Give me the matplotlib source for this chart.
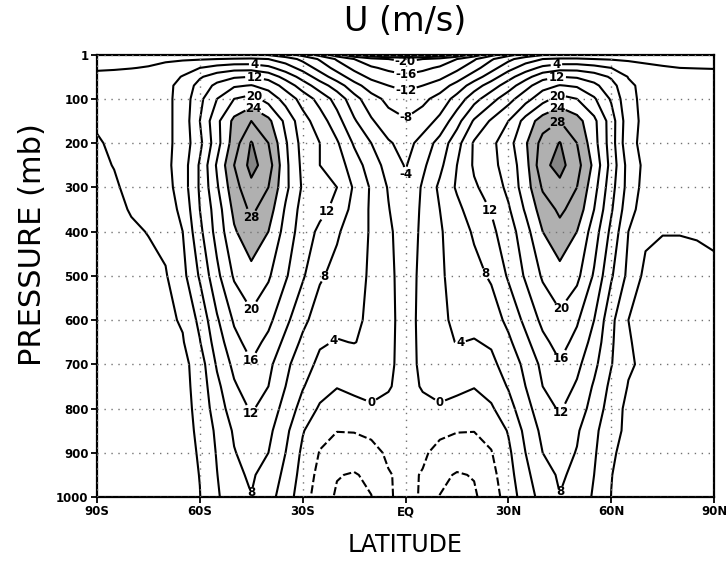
import matplotlib
matplotlib.use("Agg")
import matplotlib.pyplot as plt
import numpy as np

# zonal mean U (m/s), values on a 5 deg x pressure grid
pressure = [1, 10, 30, 50, 70, 100, 150, 200, 250, 300, 350, 400,
            500, 600, 650, 700, 750, 800, 850, 900, 950, 1000]
lat_nh = [0, 5, 10, 15, 20, 25, 30, 35, 40, 45, 50, 55, 60, 65, 70, 75, 80, 85, 90]

# northern hemisphere, columns EQ -> 90N
u_nh = [
    [-30, -29, -27, -23, -18, -13, -9, -6, -4, -3, -3, -3, -3, -2.8, -2.5, -2.3, -2.2, -2, -2],
    [-21, -20, -18.5, -16, -12.5, -8.5, -5, -2, 0, 0.5, 0.5, 0, -0.3, -0.6, -0.8, -1, -1, -1, -1],
    [-17.5, -16.8, -15.5, -13, -9.5, -5.5, -1.5, 2, 5, 6.5, 6.5, 5.5, 4, 2, 0.8, 0.3, 0, -0.1, -0.2],
    [-15.5, -14.5, -13, -10, -6, -2, 2.5, 6.5, 10.5, 12, 11.5, 10, 7.5, 3.8, 2, 1.5, 1.5, 1.5, 1.5],
    [-13, -12, -10, -6.5, -2, 2, 6, 10.5, 14.5, 16.2, 15.5, 13, 9.5, 4.8, 2.8, 2.2, 2, 2, 2],
    [-10.5, -9, -6.5, -2.5, 2.5, 6.5, 10.5, 14.5, 18.5, 21.5, 20, 16.5, 11.5, 5, 3, 2.5, 2.5, 2.5, 2.5],
    [-7.6, -6, -3, 2.5, 8.5, 12.5, 16, 21.5, 26, 28, 25.5, 21, 14, 5.5, 3, 2.6, 2.6, 2.6, 2.6],
    [-5.5, -2.5, 1.5, 6.5, 12.5, 15, 18.5, 23.5, 29.5, 32.2, 28, 21.5, 14, 5, 3, 2.5, 2.5, 2.5, 2.5],
    [-4.3, -0.8, 3, 8, 12.5, 15, 17.5, 22.5, 31, 33.3, 29.5, 23, 14.5, 6.5, 3, 2.3, 2.2, 2.2, 2.2],
    [-3.6, 0.5, 4.8, 8.5, 11.5, 13.5, 17, 22, 28.5, 31, 28, 21.5, 13.5, 6.5, 2.5, 1.8, 1.5, 1.5, 1.5],
    [-2.8, 0.7, 4, 7, 10, 12.2, 15.5, 20.5, 26, 28.7, 26.5, 20, 12.5, 5.5, 2, 1, 0.8, 0.8, 1],
    [-2.3, 0.8, 3.6, 6, 8.5, 11.2, 14, 18.5, 24, 26.8, 24, 18, 11, 4, 0.8, 0.1, 0.1, 0.2, 0.4],
    [-1.8, 1, 3.6, 5, 6.8, 8.5, 12.5, 16.5, 20.5, 22.6, 21, 15.5, 8.5, 3, -1, -1, -1, -0.8, -0.5],
    [-1.5, 1, 3.5, 4.5, 5, 6, 9, 13, 17, 19.2, 16.5, 12, 5, 0, -0.7, -1, -1, -0.8, -0.6],
    [-1.5, 0.9, 3.3, 4.1, 3.8, 4.4, 7.2, 11, 15, 17.5, 14.8, 10.5, 4.6, 0.2, -0.8, -1.1, -1.1, -1, -0.9],
    [-1.5, 0.8, 2, 2.2, 2.5, 3.2, 5.5, 9, 13, 15.7, 13, 9, 4.2, 0.5, -0.8, -1.2, -1.2, -1.2, -1.2],
    [-1.7, 0.4, 0.8, 0.5, 0.1, 1.5, 4.3, 8, 12, 14, 11.5, 7.5, 3, -0.2, -1, -1.3, -1.4, -1.4, -1.4],
    [-2, -1.2, -0.3, -0.7, -1.1, -0.5, 2.5, 6.5, 10.5, 12.4, 10, 6.5, 2, -1, -1.3, -1.5, -1.5, -1.5, -1.5],
    [-2.5, -2.8, -3.3, -3.8, -3.9, -2.8, 0.3, 5, 9, 10.9, 8.5, 5, 1.2, -0.8, -1.5, -1.6, -1.6, -1.6, -1.6],
    [-3, -3.5, -5, -6, -5.8, -4.2, -0.8, 4, 8, 9.5, 7.8, 4.5, 0.5, -1.2, -1.7, -1.7, -1.7, -1.7, -1.7],
    [-3.3, -4.2, -7.2, -8.3, -7.8, -5.2, -1.5, 3, 6.5, 8.5, 7.2, 4, 0.1, -1.5, -1.8, -1.8, -1.8, -1.8, -1.8],
    [-3.2, -4.3, -8.1, -9.2, -8.5, -6, -2.2, 2, 5.5, 7.9, 6.5, 3.5, -0.05, -1.5, -1.8, -1.8, -1.8, -1.8, -1.8],
]

# southern hemisphere, columns EQ -> 90S
u_sh = [
    [-30, -29, -27, -23, -18, -13, -9, -6, -4, -3, -3, -3, -3, -2.8, -2.5, -2.3, -2.2, -2, -2],
    [-21, -20, -18.5, -16, -12.5, -8.5, -5, -2, 0, 0.5, 0.3, 0, -0.3, -0.5, -0.7, -0.9, -1, -1, -1],
    [-17.5, -16.8, -15.5, -13, -9.5, -5.5, -1.5, 2, 5, 6.5, 6.5, 5.5, 4, 2.5, 1.2, 0.2, -0.1, -0.3, -0.4],
    [-15.5, -14.5, -13, -10, -6, -2, 2.5, 6.5, 10.5, 12, 11.5, 10, 7.5, 4.2, 2.5, 1.8, 1.3, 1, 0.8],
    [-13, -12, -10, -6.5, -2, 2, 6, 10.5, 14.5, 16.2, 15.5, 13, 9.5, 5.2, 3, 2.3, 1.8, 1.5, 1.4],
    [-10.5, -9, -6.5, -2.5, 2.5, 6.5, 10.5, 14.5, 18.5, 21.5, 20, 16, 11, 5.5, 3, 2.3, 1.8, 1.3, 1.2],
    [-7.6, -6.5, -3.5, 0.5, 5.5, 10, 13.5, 19, 25, 28, 25, 19, 12, 5.5, 3, 2.3, 1.6, 0.8, 0.4],
    [-5.5, -3.5, 0, 3.5, 8.5, 12, 14.5, 20.5, 28, 32.3, 26, 18.5, 11, 5.5, 3, 2.3, 1.6, 0.5, -0.3],
    [-4.3, -1.5, 2, 6, 10, 12, 15, 21, 30, 33.3, 28, 20.5, 12.5, 6, 3, 2, 1.2, 0.1, -0.6],
    [-3.6, -0.3, 3.5, 7.5, 12, 13.5, 15.5, 21, 28, 31, 26.5, 19.5, 12.5, 6, 2.5, 1.5, 0.8, -0.4, -0.8],
    [-2.8, 0.2, 3.5, 6.5, 11, 13, 14.5, 19.5, 26, 28.8, 25, 18, 12, 5, 2, 1, 0.2, -0.7, -0.9],
    [-2.3, 0.8, 3.6, 6, 8.5, 11.2, 14, 18.5, 24, 26.8, 23.5, 17.5, 11, 4, 1, 0.1, -0.4, -0.9, -1],
    [-1.8, 1, 3.6, 5, 6.8, 8.5, 12.5, 16.5, 20.5, 22.6, 20.5, 15, 8.5, 2.8, -0.3, -0.8, -1, -1.2, -1.2],
    [-1.5, 1, 3.5, 4.5, 5, 6, 9, 13, 17, 19.2, 16.5, 11.5, 5, 0.4, -0.8, -1, -1.2, -1.3, -1.3],
    [-1.5, 0.9, 3.3, 4.1, 3.8, 4.4, 7.2, 11, 15, 17.5, 14.8, 10, 3.8, -0.3, -1, -1.2, -1.3, -1.4, -1.4],
    [-1.5, 0.8, 2, 2.2, 2.5, 3.2, 5.5, 9, 13, 15.7, 13, 8.5, 2, -1.2, -1.3, -1.4, -1.5, -1.5, -1.5],
    [-1.7, 0.4, 0.8, 0.5, 0.1, 1.5, 4.3, 8, 12, 14, 11.5, 7, 1.6, -1.3, -1.5, -1.6, -1.6, -1.6, -1.6],
    [-2, -1.2, -0.3, -0.7, -1.1, -0.5, 2.5, 6.5, 10.5, 12.4, 10, 6, 1.2, -1.4, -1.6, -1.7, -1.7, -1.7, -1.7],
    [-2.5, -2.8, -3.3, -3.8, -3.9, -2.8, 0.3, 5, 9, 10.9, 8.5, 4.8, 0.8, -1.5, -1.7, -1.8, -1.8, -1.8, -1.8],
    [-3, -3.5, -5, -6, -5.8, -4.2, -0.8, 4, 8, 9.5, 7.8, 4.3, 0.4, -1.6, -1.8, -1.9, -1.9, -1.9, -1.9],
    [-3.3, -4.2, -7.2, -8.3, -7.8, -5.2, -1.5, 3, 6.5, 8.5, 7.2, 3.9, 0.1, -1.7, -1.9, -2, -2, -2, -2],
    [-3.2, -4.3, -8.1, -9.2, -8.5, -6, -2.2, 2, 5.5, 7.9, 6.5, 3.5, -0.1, -1.8, -2, -2, -2, -2, -2],
]

pos_levels = [0, 4, 8, 12, 16, 20, 24, 28, 32]
neg_levels_upper = [-28, -24, -20, -16, -12, -8, -4]
neg_levels_lower = [-8, -4]

x_ticks = [-90, -60, -30, 0, 30, 60, 90]
x_labels = ["90S", "60S", "30S", "EQ", "30N", "60N", "90N"]
y_ticks = [1, 100, 200, 300, 400, 500, 600, 700, 800, 900, 1000]

# label spots (lat, mb) for the contour numbers
pos_label_spots = [(9.5, 796), (16, 652), (24, 493), (25.5, 350), (46, 811), (46, 690),
                   (46, 577), (46, 990), (44, 22), (44, 50), (44, 92), (44, 118), (44, 150),
                   (-10.1, 796), (-21.7, 640), (-24, 500), (-21.7, 362), (-45, 811),
                   (-45, 690), (-45, 577), (-45, 990), (-45, 368), (-44, 22), (-44, 50),
                   (-44, 92), (-44, 118)]
neg_label_spots = [(0, 12), (0, 45), (0, 83), (0, 143), (0, 271)]

# full field 90S..90N
lats = [-v for v in lat_nh[:0:-1]] + lat_nh
u = np.array([sh[:0:-1] + nh for sh, nh in zip(u_sh, u_nh)])
p = np.array(pressure)
up = p <= 600
low = p >= 700

fig = plt.figure(figsize=(7.26, 5.63), dpi=100)
ax = fig.add_axes([0.1336, 0.1172, 0.850, 0.785])

ax.contourf(lats, p, u, levels=[24, 32, 60], colors=["#b0b0b0", "#858585"])

cs = ax.contour(lats, p, u, levels=pos_levels, colors="black", linewidths=1.5)
# upper easterlies solid, near-surface easterlies dashed (as in the original)
cs_up = ax.contour(lats, p[up], u[up], levels=neg_levels_upper, colors="black",
                   linewidths=1.5, linestyles="solid")
ax.contour(lats, p[low], u[low], levels=neg_levels_lower, colors="black",
           linewidths=1.5, linestyles=[(0, (4, 1.5))])

for c, spots in [(cs, pos_label_spots), (cs_up, neg_label_spots)]:
    txts = ax.clabel(c, fmt="%d", fontsize=8.5, inline=True, inline_spacing=2,
                     manual=spots)
    for t in txts:
        t.set_fontweight("bold")
        t.set_rotation(0)

ax.set_xlim(-90, 90)
ax.set_ylim(1000, 1)
ax.set_xticks(x_ticks)
ax.set_xticklabels(x_labels, fontsize=8.5, fontweight="bold")
ax.set_yticks(y_ticks)
ax.set_yticklabels([str(v) for v in y_ticks], fontsize=8.5, fontweight="bold")
ax.tick_params(direction="out", length=4, width=1.3, pad=2)
for s in ax.spines.values():
    s.set_linewidth(1.6)
ax.grid(True, linestyle=(0, (1, 4)), color="0.45", linewidth=1.0)
ax.set_axisbelow(False)

fig.text(0.558, 0.962, "U (m/s)", fontsize=24, ha="center", va="center")
fig.text(0.045, 0.565, "PRESSURE (mb)", fontsize=22, rotation=90, ha="center", va="center")
fig.text(0.558, 0.032, "LATITUDE", fontsize=17, ha="center", va="center")

fig.savefig("out.png", dpi=100)
